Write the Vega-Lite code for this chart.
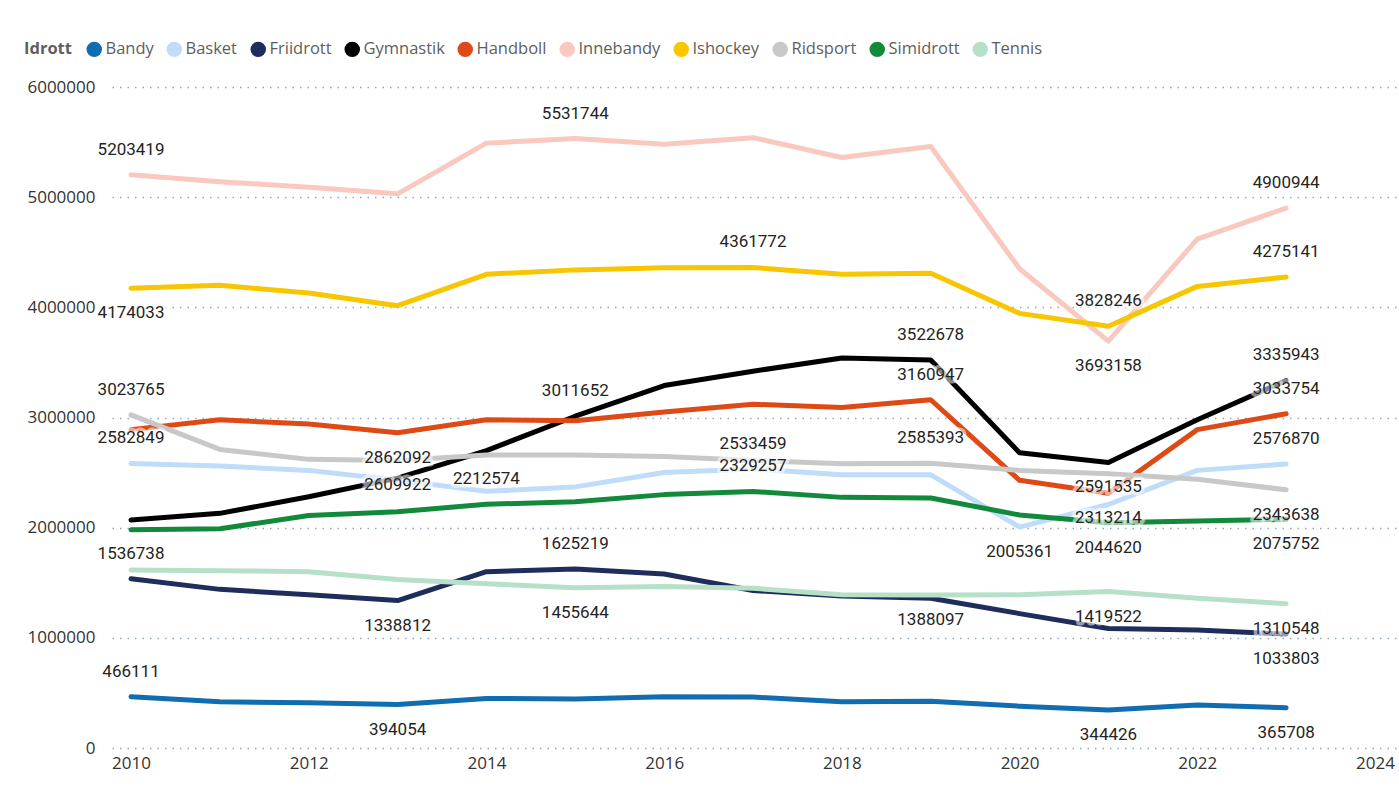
{
  "$schema": "https://vega.github.io/schema/vega-lite/v6.json",
  "width": 1287,
  "height": 661,
  "autosize": {"type": "none"},
  "padding": {"left": 112, "top": 87, "right": 0, "bottom": 45},
  "background": "white",
  "config": {
    "view": {"stroke": null},
    "font": "Open Sans",
    "axis": {"domain": false, "ticks": false, "labelFont": "Open Sans", "labelFontSize": 17, "labelColor": "#333333"},
    "legend": {
      "orient": "none", "legendX": -88, "legendY": -46, "direction": "horizontal", "columns": 10,
      "titleOrient": "left", "titleFont": "Open Sans", "titleFontSize": 16.5, "titleFontWeight": "bold", "titleColor": "#605E5C",
      "titlePadding": 14, "labelFont": "Open Sans", "labelFontSize": 16.5, "labelColor": "#605E5C",
      "symbolType": "circle", "symbolSize": 240, "symbolStrokeWidth": 0, "labelOffset": 3, "columnPadding": 12
    }
  },
  "data": {"values": [
    {"Idrott":"Bandy","year":2010,"value":466111,"label":"above"},
    {"Idrott":"Bandy","year":2011,"value":420000},
    {"Idrott":"Bandy","year":2012,"value":410000},
    {"Idrott":"Bandy","year":2013,"value":394054,"label":"below"},
    {"Idrott":"Bandy","year":2014,"value":450000},
    {"Idrott":"Bandy","year":2015,"value":445000},
    {"Idrott":"Bandy","year":2016,"value":465000},
    {"Idrott":"Bandy","year":2017,"value":462000},
    {"Idrott":"Bandy","year":2018,"value":420000},
    {"Idrott":"Bandy","year":2019,"value":425000},
    {"Idrott":"Bandy","year":2020,"value":380000},
    {"Idrott":"Bandy","year":2021,"value":344426,"label":"below"},
    {"Idrott":"Bandy","year":2022,"value":390000},
    {"Idrott":"Bandy","year":2023,"value":365708,"label":"below"},
    {"Idrott":"Basket","year":2010,"value":2582849,"label":"above"},
    {"Idrott":"Basket","year":2011,"value":2560000},
    {"Idrott":"Basket","year":2012,"value":2520000},
    {"Idrott":"Basket","year":2013,"value":2430000},
    {"Idrott":"Basket","year":2014,"value":2330000},
    {"Idrott":"Basket","year":2015,"value":2370000},
    {"Idrott":"Basket","year":2016,"value":2500000},
    {"Idrott":"Basket","year":2017,"value":2533459,"label":"above"},
    {"Idrott":"Basket","year":2018,"value":2480000},
    {"Idrott":"Basket","year":2019,"value":2480000},
    {"Idrott":"Basket","year":2020,"value":2005361,"label":"below"},
    {"Idrott":"Basket","year":2021,"value":2210000},
    {"Idrott":"Basket","year":2022,"value":2520000},
    {"Idrott":"Basket","year":2023,"value":2576870,"label":"above"},
    {"Idrott":"Friidrott","year":2010,"value":1536738,"label":"above"},
    {"Idrott":"Friidrott","year":2011,"value":1440000},
    {"Idrott":"Friidrott","year":2012,"value":1390000},
    {"Idrott":"Friidrott","year":2013,"value":1338812,"label":"below"},
    {"Idrott":"Friidrott","year":2014,"value":1600000},
    {"Idrott":"Friidrott","year":2015,"value":1625219,"label":"above"},
    {"Idrott":"Friidrott","year":2016,"value":1580000},
    {"Idrott":"Friidrott","year":2017,"value":1430000},
    {"Idrott":"Friidrott","year":2018,"value":1380000},
    {"Idrott":"Friidrott","year":2019,"value":1360000},
    {"Idrott":"Friidrott","year":2020,"value":1220000},
    {"Idrott":"Friidrott","year":2021,"value":1085000},
    {"Idrott":"Friidrott","year":2022,"value":1070000},
    {"Idrott":"Friidrott","year":2023,"value":1033803,"label":"below"},
    {"Idrott":"Gymnastik","year":2010,"value":2070000},
    {"Idrott":"Gymnastik","year":2011,"value":2130000},
    {"Idrott":"Gymnastik","year":2012,"value":2280000},
    {"Idrott":"Gymnastik","year":2013,"value":2450000},
    {"Idrott":"Gymnastik","year":2014,"value":2700000},
    {"Idrott":"Gymnastik","year":2015,"value":3011652,"label":"above"},
    {"Idrott":"Gymnastik","year":2016,"value":3290000},
    {"Idrott":"Gymnastik","year":2017,"value":3420000},
    {"Idrott":"Gymnastik","year":2018,"value":3540000},
    {"Idrott":"Gymnastik","year":2019,"value":3522678,"label":"above"},
    {"Idrott":"Gymnastik","year":2020,"value":2680000},
    {"Idrott":"Gymnastik","year":2021,"value":2591535,"label":"below"},
    {"Idrott":"Gymnastik","year":2022,"value":2980000},
    {"Idrott":"Gymnastik","year":2023,"value":3335943,"label":"above"},
    {"Idrott":"Handboll","year":2010,"value":2890000},
    {"Idrott":"Handboll","year":2011,"value":2980000},
    {"Idrott":"Handboll","year":2012,"value":2940000},
    {"Idrott":"Handboll","year":2013,"value":2862092,"label":"below"},
    {"Idrott":"Handboll","year":2014,"value":2980000},
    {"Idrott":"Handboll","year":2015,"value":2970000},
    {"Idrott":"Handboll","year":2016,"value":3050000},
    {"Idrott":"Handboll","year":2017,"value":3120000},
    {"Idrott":"Handboll","year":2018,"value":3090000},
    {"Idrott":"Handboll","year":2019,"value":3160947,"label":"above"},
    {"Idrott":"Handboll","year":2020,"value":2430000},
    {"Idrott":"Handboll","year":2021,"value":2313214,"label":"below"},
    {"Idrott":"Handboll","year":2022,"value":2890000},
    {"Idrott":"Handboll","year":2023,"value":3033754,"label":"above"},
    {"Idrott":"Innebandy","year":2010,"value":5203419,"label":"above"},
    {"Idrott":"Innebandy","year":2011,"value":5140000},
    {"Idrott":"Innebandy","year":2012,"value":5090000},
    {"Idrott":"Innebandy","year":2013,"value":5030000},
    {"Idrott":"Innebandy","year":2014,"value":5490000},
    {"Idrott":"Innebandy","year":2015,"value":5531744,"label":"above"},
    {"Idrott":"Innebandy","year":2016,"value":5480000},
    {"Idrott":"Innebandy","year":2017,"value":5540000},
    {"Idrott":"Innebandy","year":2018,"value":5360000},
    {"Idrott":"Innebandy","year":2019,"value":5460000},
    {"Idrott":"Innebandy","year":2020,"value":4350000},
    {"Idrott":"Innebandy","year":2021,"value":3693158,"label":"below"},
    {"Idrott":"Innebandy","year":2022,"value":4620000},
    {"Idrott":"Innebandy","year":2023,"value":4900944,"label":"above"},
    {"Idrott":"Ishockey","year":2010,"value":4174033,"label":"below"},
    {"Idrott":"Ishockey","year":2011,"value":4200000},
    {"Idrott":"Ishockey","year":2012,"value":4130000},
    {"Idrott":"Ishockey","year":2013,"value":4015000},
    {"Idrott":"Ishockey","year":2014,"value":4300000},
    {"Idrott":"Ishockey","year":2015,"value":4340000},
    {"Idrott":"Ishockey","year":2016,"value":4360000},
    {"Idrott":"Ishockey","year":2017,"value":4361772,"label":"above"},
    {"Idrott":"Ishockey","year":2018,"value":4300000},
    {"Idrott":"Ishockey","year":2019,"value":4310000},
    {"Idrott":"Ishockey","year":2020,"value":3945000},
    {"Idrott":"Ishockey","year":2021,"value":3828246,"label":"above"},
    {"Idrott":"Ishockey","year":2022,"value":4190000},
    {"Idrott":"Ishockey","year":2023,"value":4275141,"label":"above"},
    {"Idrott":"Ridsport","year":2010,"value":3023765,"label":"above"},
    {"Idrott":"Ridsport","year":2011,"value":2710000},
    {"Idrott":"Ridsport","year":2012,"value":2620000},
    {"Idrott":"Ridsport","year":2013,"value":2609922,"label":"below"},
    {"Idrott":"Ridsport","year":2014,"value":2660000},
    {"Idrott":"Ridsport","year":2015,"value":2660000},
    {"Idrott":"Ridsport","year":2016,"value":2645000},
    {"Idrott":"Ridsport","year":2017,"value":2610000},
    {"Idrott":"Ridsport","year":2018,"value":2580000},
    {"Idrott":"Ridsport","year":2019,"value":2585393,"label":"above"},
    {"Idrott":"Ridsport","year":2020,"value":2520000},
    {"Idrott":"Ridsport","year":2021,"value":2490000},
    {"Idrott":"Ridsport","year":2022,"value":2440000},
    {"Idrott":"Ridsport","year":2023,"value":2343638,"label":"below"},
    {"Idrott":"Simidrott","year":2010,"value":1980000},
    {"Idrott":"Simidrott","year":2011,"value":1990000},
    {"Idrott":"Simidrott","year":2012,"value":2110000},
    {"Idrott":"Simidrott","year":2013,"value":2145000},
    {"Idrott":"Simidrott","year":2014,"value":2212574,"label":"above"},
    {"Idrott":"Simidrott","year":2015,"value":2235000},
    {"Idrott":"Simidrott","year":2016,"value":2300000},
    {"Idrott":"Simidrott","year":2017,"value":2329257,"label":"above"},
    {"Idrott":"Simidrott","year":2018,"value":2275000},
    {"Idrott":"Simidrott","year":2019,"value":2270000},
    {"Idrott":"Simidrott","year":2020,"value":2115000},
    {"Idrott":"Simidrott","year":2021,"value":2044620,"label":"below"},
    {"Idrott":"Simidrott","year":2022,"value":2060000},
    {"Idrott":"Simidrott","year":2023,"value":2075752,"label":"below"},
    {"Idrott":"Tennis","year":2010,"value":1615000},
    {"Idrott":"Tennis","year":2011,"value":1610000},
    {"Idrott":"Tennis","year":2012,"value":1600000},
    {"Idrott":"Tennis","year":2013,"value":1530000},
    {"Idrott":"Tennis","year":2014,"value":1490000},
    {"Idrott":"Tennis","year":2015,"value":1455644,"label":"below"},
    {"Idrott":"Tennis","year":2016,"value":1465000},
    {"Idrott":"Tennis","year":2017,"value":1450000},
    {"Idrott":"Tennis","year":2018,"value":1390000},
    {"Idrott":"Tennis","year":2019,"value":1388097,"label":"below"},
    {"Idrott":"Tennis","year":2020,"value":1390000},
    {"Idrott":"Tennis","year":2021,"value":1419522,"label":"below"},
    {"Idrott":"Tennis","year":2022,"value":1360000},
    {"Idrott":"Tennis","year":2023,"value":1310548,"label":"below"}
  ]},
  "encoding": {
    "x": {"field": "year", "type": "quantitative",
      "scale": {"domain": [2009.786, 2024.27], "nice": false, "zero": false},
      "axis": {"title": null, "values": [2010, 2012, 2014, 2016, 2018, 2020, 2022, 2024], "format": "d", "grid": false, "labelPadding": 7}},
    "y": {"field": "value", "type": "quantitative",
      "scale": {"domain": [0, 6000000], "nice": false},
      "axis": {"title": null, "values": [0, 1000000, 2000000, 3000000, 4000000, 5000000, 6000000], "format": "d", "labelPadding": 17,
        "grid": true, "gridColor": "#8FA8C0", "gridDash": [1.5, 6], "gridWidth": 1.5, "labelBaseline": "middle"}}
  },
  "layer": [
    {
      "mark": {"type": "line", "strokeWidth": 5, "strokeCap": "round", "strokeJoin": "round"},
      "encoding": {
        "color": {"field": "Idrott", "type": "nominal",
          "scale": {"domain": ["Bandy","Basket","Friidrott","Gymnastik","Handboll","Innebandy","Ishockey","Ridsport","Simidrott","Tennis"],
            "range": ["#126DB0","#BFDCF9","#1E2D5C","#000000","#DD4A16","#F9C9C0","#F7C600","#C8C8C8","#138A3B","#B7E0C9"]},
          "legend": {"title": "Idrott", "encode": {"symbols": {"update": {"fill": {"scale": "color", "field": "value"}, "strokeWidth": {"value": 0}}}}}}
      }
    },
    {
      "transform": [{"filter": "datum.label === 'above'"}],
      "mark": {"type": "text", "dy": -25, "font": "Roboto", "fontSize": 17, "stroke": "white", "strokeWidth": 7, "strokeOpacity": 0.55, "strokeJoin": "round", "fill": "white", "fillOpacity": 0.55},
      "encoding": {"text": {"field": "value", "type": "quantitative", "format": "d"}}
    },
    {
      "transform": [{"filter": "datum.label === 'below'"}],
      "mark": {"type": "text", "dy": 25, "font": "Roboto", "fontSize": 17, "stroke": "white", "strokeWidth": 7, "strokeOpacity": 0.55, "strokeJoin": "round", "fill": "white", "fillOpacity": 0.55},
      "encoding": {"text": {"field": "value", "type": "quantitative", "format": "d"}}
    },
    {
      "transform": [{"filter": "datum.label === 'above'"}],
      "mark": {"type": "text", "dy": -25, "font": "Roboto", "fontSize": 17, "fill": "#252423"},
      "encoding": {"text": {"field": "value", "type": "quantitative", "format": "d"}}
    },
    {
      "transform": [{"filter": "datum.label === 'below'"}],
      "mark": {"type": "text", "dy": 25, "font": "Roboto", "fontSize": 17, "fill": "#252423"},
      "encoding": {"text": {"field": "value", "type": "quantitative", "format": "d"}}
    }
  ]
}
